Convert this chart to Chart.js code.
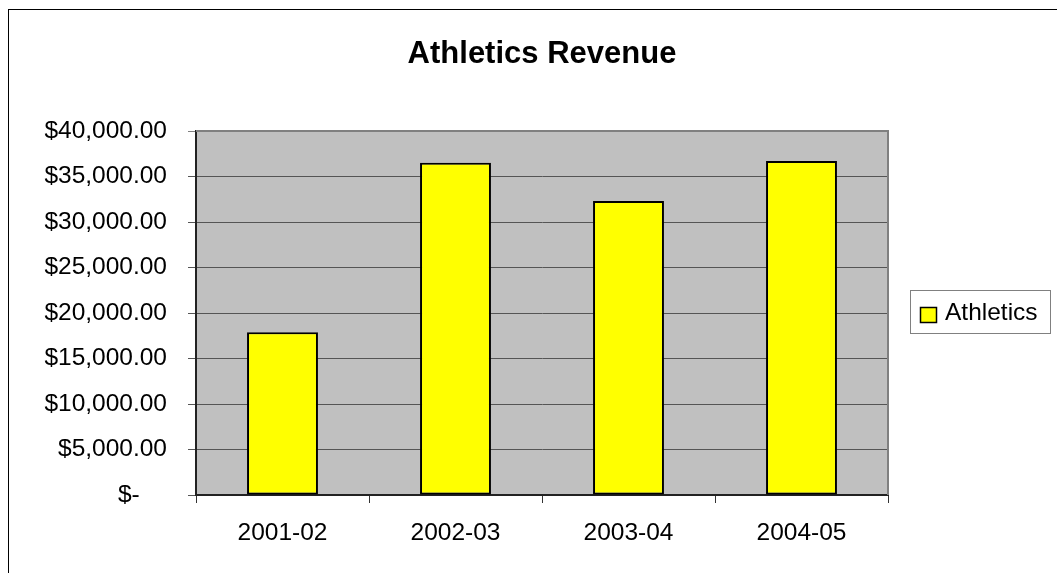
<!DOCTYPE html>
<html>
<head>
<meta charset="utf-8">
<script src="https://cdn.jsdelivr.net/npm/chart.js@4.4.1/dist/chart.umd.min.js"></script>
<style>
  html, body { margin: 0; padding: 0; background: #ffffff; }
  #wrap { width: 1057px; height: 573px; position: relative; }
</style>
</head>
<body>
<div id="wrap"><canvas id="c" width="1057" height="573"></canvas></div>
<script>
const chartTitle = 'Athletics Revenue';
const categories = ['2001-02', '2002-03', '2003-04', '2004-05'];
const seriesName = 'Athletics';
const athleticsRevenue = [17880, 36520, 32310, 36700];
const yTickValues = [0, 5000, 10000, 15000, 20000, 25000, 30000, 35000, 40000];
const yTickLabels = ['$-    ', '$5,000.00', '$10,000.00', '$15,000.00', '$20,000.00',
                     '$25,000.00', '$30,000.00', '$35,000.00', '$40,000.00'];

const FONT = '"Liberation Sans", Arial, sans-serif';

const decor = {
  id: 'decor',
  beforeDraw(chart) {
    const ctx = chart.ctx;
    const a = chart.chartArea;
    ctx.save();
    ctx.fillStyle = '#ffffff';
    ctx.fillRect(0, 0, chart.width, chart.height);
    // outer chart border
    ctx.strokeStyle = '#000000';
    ctx.lineWidth = 1;
    ctx.strokeRect(8.5, 9.5, 1200, 700);
    // plot area
    ctx.fillStyle = '#C0C0C0';
    ctx.fillRect(a.left, a.top, a.right - a.left, a.bottom - a.top);
    ctx.restore();
  },
  beforeDatasetsDraw(chart) {
    const ctx = chart.ctx;
    const a = chart.chartArea;
    ctx.save();
    ctx.strokeStyle = '#808080';
    ctx.lineWidth = 2;
    ctx.beginPath();
    ctx.moveTo(a.left, a.top);
    ctx.lineTo(a.right, a.top);
    ctx.lineTo(a.right, a.bottom);
    ctx.stroke();
    ctx.restore();
  },
  afterDraw(chart) {
    const ctx = chart.ctx;
    const a = chart.chartArea;
    ctx.save();
    // title
    ctx.fillStyle = '#000000';
    ctx.font = 'bold 31px ' + FONT;
    ctx.textAlign = 'center';
    ctx.textBaseline = 'alphabetic';
    ctx.fillText(chartTitle, (a.left + a.right) / 2, 63);
    // legend
    const ds = chart.data.datasets[0];
    ctx.strokeStyle = '#808080';
    ctx.lineWidth = 1;
    ctx.strokeRect(910.5, 290.5, 140, 43);
    ctx.fillStyle = ds.backgroundColor;
    ctx.fillRect(920, 307, 17, 16);
    ctx.strokeStyle = '#000000';
    ctx.lineWidth = 1.5;
    ctx.strokeRect(920.5, 307.5, 16, 15);
    ctx.fillStyle = '#000000';
    ctx.font = '24.5px ' + FONT;
    ctx.textAlign = 'left';
    ctx.fillText(ds.label, 945, 320);
    ctx.restore();
  }
};

new Chart(document.getElementById('c'), {
  type: 'bar',
  data: {
    labels: categories,
    datasets: [{
      label: seriesName,
      data: athleticsRevenue,
      backgroundColor: '#FFFF00',
      borderColor: '#000000',
      borderWidth: 2,
      borderSkipped: false,
      categoryPercentage: 1.0,
      barPercentage: 0.41
    }]
  },
  options: {
    responsive: false,
    animation: false,
    devicePixelRatio: 1,
    layout: { padding: { left: 0, top: 131, right: 169, bottom: 0 } },
    plugins: {
      legend: { display: false },
      title: { display: false },
      tooltip: { enabled: false }
    },
    scales: {
      x: {
        offset: true,
        grid: {
          offset: true,
          drawOnChartArea: false,
          drawTicks: true,
          tickLength: 8,
          color: '#333333',
          lineWidth: 1
        },
        border: { display: true, color: '#222222', width: 2 },
        ticks: {
          color: '#000000',
          font: { family: FONT, size: 24.5 },
          padding: 16,
          maxRotation: 0,
          autoSkip: false
        },
        afterFit(scale) { scale.height = 78; }
      },
      y: {
        min: 0,
        max: 40000,
        afterBuildTicks(scale) {
          scale.ticks = yTickValues.map(v => ({ value: v }));
        },
        grid: {
          color: (c) => (c.tick && c.tick.value === 40000) ? '#808080' : '#555555',
          lineWidth: 1,
          drawTicks: true,
          tickLength: 8
        },
        border: { display: true, color: '#222222', width: 2 },
        ticks: {
          color: '#000000',
          font: { family: FONT, size: 24.5 },
          padding: 21,
          callback: (v, i) => yTickLabels[yTickValues.indexOf(v)]
        },
        afterFit(scale) { scale.width = 196; }
      }
    }
  },
  plugins: [decor]
});
</script>
</body>
</html>
